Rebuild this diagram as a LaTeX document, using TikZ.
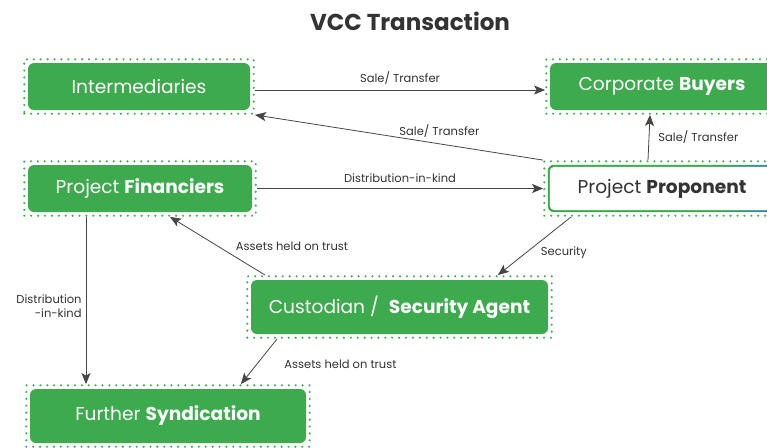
\documentclass[tikz,border=0pt]{standalone}
\usepackage{fontspec}
\setmainfont{Poppins}
\usetikzlibrary{fit,calc,arrows.meta}
\definecolor{boxgreen}{RGB}{61,170,77}
\definecolor{dotgreen}{RGB}{66,176,80}
\definecolor{edgeblue}{RGB}{58,120,216}
\definecolor{inkgray}{RGB}{51,51,51}
\definecolor{linegray}{RGB}{70,70,70}
\pgfdeclarehorizontalshading{propborder}{100bp}{color(0bp)=(boxgreen); color(62bp)=(boxgreen); color(80bp)=(edgeblue); color(100bp)=(edgeblue)}
\tikzset{
  greenbox/.style={fill=boxgreen, rounded corners=6pt, text=white, font=\fontsize{18.6}{22}\selectfont, inner sep=0pt},
  outline/.style={draw=dotgreen, line width=2.4pt, line cap=round, dash pattern=on 0pt off 6.9pt, inner sep=3.5pt},
  flow/.style={draw=linegray, line width=0.8pt, -{Stealth[length=11pt,width=9pt,inset=2.5pt]}, color=linegray},
  lbl/.style={text=inkgray, font=\fontsize{11.5}{14}\selectfont, inner sep=1pt},
}
\begin{document}
\begin{tikzpicture}[x=1pt,y=1pt]
\useasboundingbox (0,0) rectangle (767,-447);
\clip (0,0) rectangle (767,-447);
\fill[white] (0,0) rectangle (767,-447);

% title
\node[font=\bfseries\fontsize{23}{27}\selectfont, text=inkgray] (title) at (410,-21) {VCC Transaction};

% boxes
\node[greenbox, minimum width=222pt, minimum height=47pt] (inter) at (139,-86.5) {Intermediaries};
\node[greenbox, minimum width=224pt, minimum height=47pt] (buyers) at (662,-86.5) {Corporate \textbf{Buyers}};
\node[greenbox, minimum width=224pt, minimum height=47pt] (fin) at (140,-188.5) {Project \textbf{Financiers}};
\node[minimum width=224pt, minimum height=47pt, inner sep=0pt] (prop) at (660,-188.5) {};
\shade[shading=propborder, rounded corners=6pt] (prop.south west) rectangle (prop.north east);
\fill[white, rounded corners=4.5pt] ($(prop.south west)+(2pt,2pt)$) rectangle ($(prop.north east)+(-2pt,-2pt)$);
\node[text=inkgray, font=\fontsize{18.6}{22}\selectfont] (proptext) at ($(prop.center)+(2pt,0)$) {Project \textbf{Proponent}};
\node[greenbox, minimum width=297pt, minimum height=54pt] (cust) at (399.5,-307) {Custodian /\ \ \textbf{Security Agent}};
\node[greenbox, minimum width=276pt, minimum height=54pt] (synd) at (168,-416) {Further \textbf{Syndication}};

% dotted surrounds
\node[outline, fit=(inter)] (interO) {};
\node[outline, fit=(buyers)] (buyersO) {};
\node[outline, fit=(fin)] (finO) {};
\node[outline, fit=(prop)] (propO) {};
\node[outline, fit=(cust)] (custO) {};
\node[outline, fit=(synd)] (syndO) {};

% connectors
\draw[flow] ($(interO.east)+(0,-3.5pt)$) -- ($(buyersO.west)+(0,-3.5pt)$)
  node[lbl, midway, above=4pt] {Sale/ Transfer};
\draw[flow] (propO.north west) -- (interO.south east)
  node[lbl, pos=0.36, above=5pt] {Sale/ Transfer};
\draw[flow] ($(propO.north)+(-12pt,0)$) -- ($(buyersO.south)+(-12pt,0)$)
  node[lbl, midway, right=8pt] {Sale/ Transfer};
\draw[flow] (finO.east) -- (propO.west)
  node[lbl, midway, above=4pt] {Distribution-in-kind};
\draw[flow] ($(custO.north west)+(19pt,0)$) -- ($(finO.south)+(30pt,0)$)
  node[lbl, midway, anchor=west, xshift=17pt, yshift=0pt] {Assets held on trust};
\draw[flow] ($(propO.south west)+(28pt,0)$) -- ($(custO.north east)+(-55pt,0)$)
  node[lbl, midway, anchor=west, xshift=5pt, yshift=-7pt] {Security};
\draw[flow] ($(finO.south)+(-54pt,0)$) -- ($(syndO.north)+(-82pt,0)$)
  node[lbl, midway, anchor=east, xshift=-3pt, yshift=-6pt, align=right] {Distribution\\-in-kind};
\draw[flow] ($(custO.south west)+(31pt,0)$) -- ($(syndO.north east)+(-70pt,0)$)
  node[lbl, midway, anchor=west, xshift=24pt, yshift=-3pt] {Assets held on trust};
\end{tikzpicture}
\end{document}
